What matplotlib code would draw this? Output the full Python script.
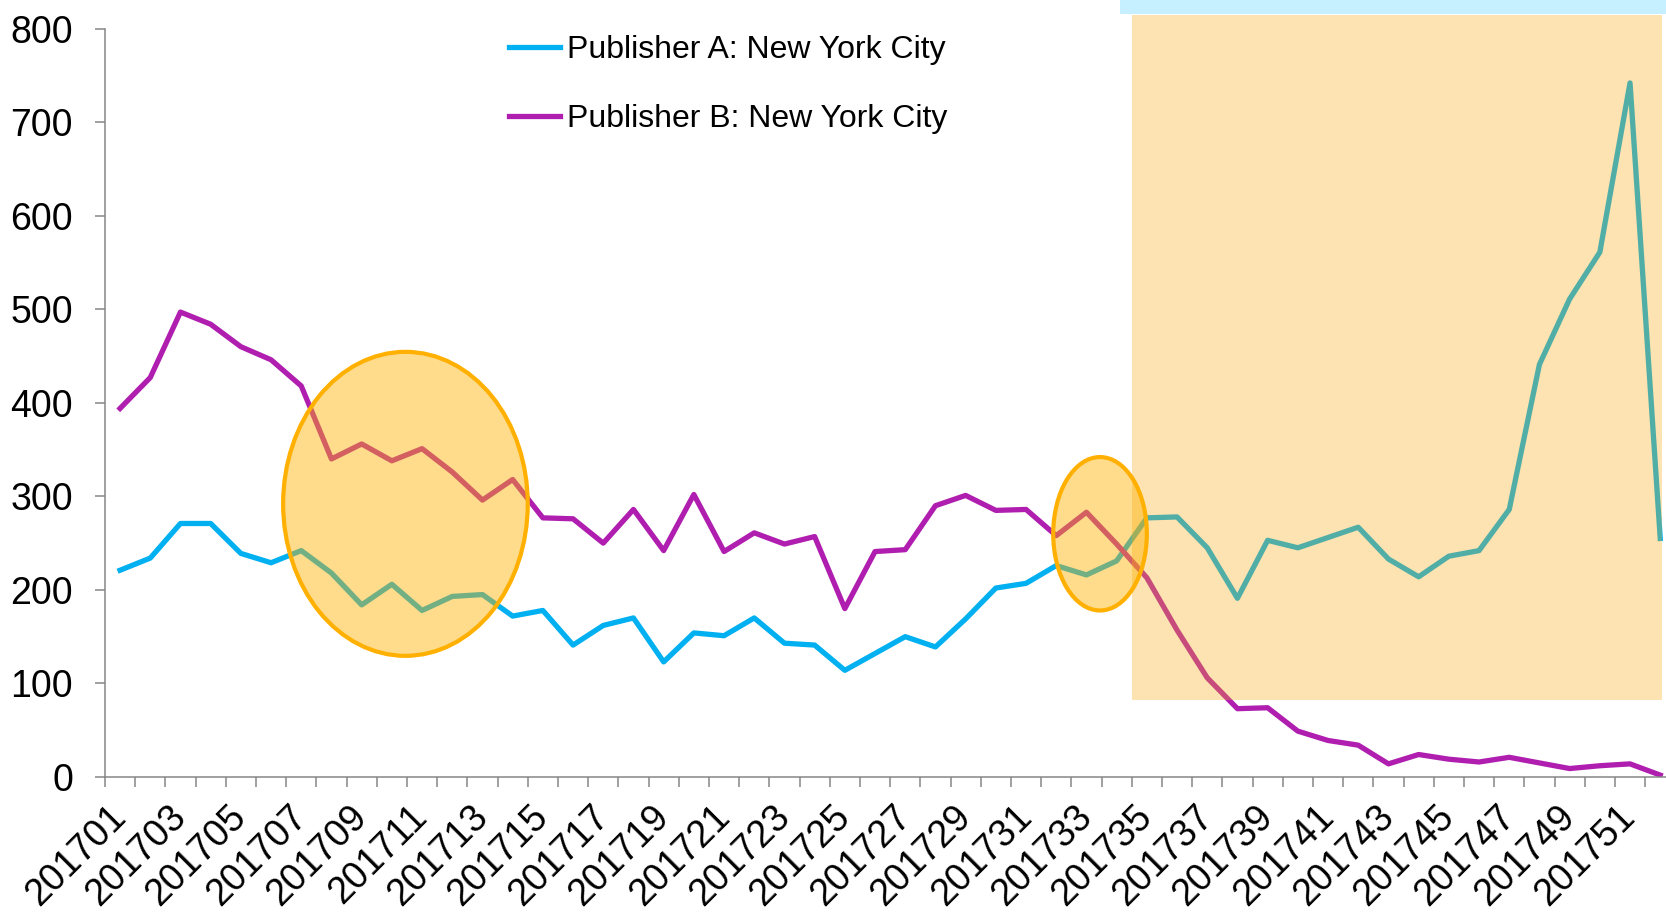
import matplotlib
matplotlib.use("Agg")
import matplotlib.pyplot as plt
from matplotlib.patches import Ellipse, Rectangle
import numpy as np

plt.rcParams['font.family'] = ['Liberation Sans', 'DejaVu Sans']

weeks = [f"2017{w:02d}" for w in range(1, 53)]

publisher_a = [221, 234, 271, 271, 239, 229, 242, 218, 184, 206,
               178, 193, 195, 172, 178, 141, 162, 170, 123, 154,
               151, 170, 143, 141, 114, 132, 150, 139, 169, 202,
               207, 226, 216, 231, 277, 278, 245, 191, 253, 245,
               256, 267, 233, 214, 236, 242, 286, 441, 511, 561,
               742, 255]

publisher_b = [394, 427, 497, 484, 460, 446, 418, 340, 356, 338,
               351, 326, 296, 318, 277, 276, 250, 286, 242, 302,
               241, 261, 249, 257, 180, 241, 243, 290, 301, 285,
               286, 258, 283, 249, 213, 157, 106, 73, 74, 49,
               39, 34, 14, 24, 19, 16, 21, 15, 9, 12,
               14, 2]

labels = ["Publisher A: New York City", "Publisher B: New York City"]

fig = plt.figure(figsize=(16.66, 9.13), dpi=100)
ax = fig.add_axes([0.063, 0.149, 0.9426, 0.8196])

x = np.arange(len(weeks))
ax.plot(x, publisher_a, color='#00B0F0', lw=3.8, label=labels[0])
ax.plot(x, publisher_b, color='#B01EB0', lw=3.8, label=labels[1])

# highlighted areas
ax.add_patch(Rectangle((33.5, 82), 51.05 - 33.5, 815 - 82, facecolor='#F6AA12',
                       alpha=0.33, edgecolor='none', clip_on=False, zorder=3))
ax.add_patch(Ellipse((9.45, 292), 8.1, 325, facecolor=(1.0, 0.69, 0.0, 0.45),
                     edgecolor='#FFB000', lw=3, zorder=4))
ax.add_patch(Ellipse((32.45, 260), 3.1, 164, facecolor=(1.0, 0.69, 0.0, 0.45),
                     edgecolor='#FFB000', lw=3, zorder=4))

# light blue box cut at the top
fig.patches.append(Rectangle((0.672, 0.985), 0.33, 0.02, transform=fig.transFigure,
                             facecolor='#C6EFFF', edgecolor='none'))

ax.set_xlim(-0.5, len(weeks) - 0.5)
ax.set_ylim(0, 800)
ax.set_yticks(range(0, 801, 100))
ax.tick_params(axis='y', labelsize=27, length=7, width=1.1, color='#868686', pad=16)

ax.set_xticks(np.arange(-0.5, len(weeks), 1))
ax.set_xticklabels([])
ax.tick_params(axis='x', which='major', length=7, width=1.1, color='#868686')
ax.set_xticks(x[::2], minor=True)
ax.set_xticklabels(weeks[::2], minor=True, rotation=45, ha='right', va='center',
                   rotation_mode='anchor', fontsize=27)
ax.tick_params(axis='x', which='minor', length=0, pad=25)

for s in ['top', 'right']:
    ax.spines[s].set_visible(False)
for s in ['left', 'bottom']:
    ax.spines[s].set_color('#868686')
    ax.spines[s].set_linewidth(1.1)

ax.legend(loc='upper left', bbox_to_anchor=(0.296, 0.979), bbox_transform=fig.transFigure,
          frameon=False, fontsize=23, handlelength=1.6, handletextpad=0.2,
          labelspacing=1.22, borderpad=0)

fig.savefig('out.png', dpi=100)
